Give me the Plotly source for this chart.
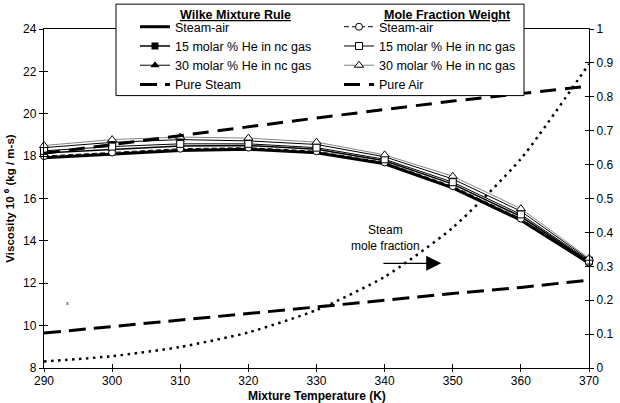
import plotly.graph_objects as go

# ---------------- data ----------------
temperature = [290, 300, 310, 320, 330, 340, 350, 360, 370]

wilke_steam_air = [17.92, 18.08, 18.27, 18.32, 18.16, 17.64, 16.50, 14.98, 12.95]
wilke_he15      = [18.15, 18.33, 18.48, 18.50, 18.32, 17.78, 16.68, 15.15, 13.02]
wilke_he30      = [18.40, 18.65, 18.78, 18.72, 18.55, 17.97, 16.92, 15.40, 13.12]
pure_steam      = [9.65, 9.95, 10.25, 10.55, 10.88, 11.20, 11.52, 11.80, 12.15]

mfw_steam_air   = [18.00, 18.17, 18.35, 18.40, 18.23, 17.70, 16.58, 15.05, 12.98]
mfw_he15        = [18.25, 18.45, 18.58, 18.58, 18.40, 17.85, 16.77, 15.25, 13.07]
mfw_he30        = [18.50, 18.78, 18.90, 18.85, 18.66, 18.06, 17.05, 15.52, 13.18]
pure_air        = [18.13, 18.55, 18.97, 19.40, 19.80, 20.20, 20.60, 20.95, 21.30]

steam_mole_fraction = [0.019, 0.035, 0.062, 0.105, 0.171, 0.269, 0.414, 0.617, 0.897]

x_ticks = [290, 300, 310, 320, 330, 340, 350, 360, 370]

FONT = "Liberation Sans, Arial, sans-serif"

fig = go.Figure()

# Wilke mixture rule column (legend 1)
fig.add_trace(go.Scatter(x=temperature, y=wilke_steam_air, name="Steam-air", mode="lines",
                         line=dict(color="black", width=3), legend="legend", cliponaxis=False))
fig.add_trace(go.Scatter(x=temperature, y=wilke_he15, name="15 molar % He in nc gas", mode="lines+markers",
                         line=dict(color="black", width=1.5),
                         marker=dict(symbol="square", size=7, color="black"),
                         legend="legend", cliponaxis=False))
fig.add_trace(go.Scatter(x=temperature, y=wilke_he30, name="30 molar % He in nc gas", mode="lines+markers",
                         line=dict(color="black", width=1),
                         marker=dict(symbol="triangle-up", size=8, color="black"),
                         legend="legend", cliponaxis=False))
fig.add_trace(go.Scatter(x=temperature, y=pure_steam, name="Pure Steam", mode="lines",
                         line=dict(color="black", width=3, dash="17px,8px"),
                         legend="legend", cliponaxis=False))

# Mole fraction weight column (legend 2)
fig.add_trace(go.Scatter(x=temperature, y=mfw_steam_air, name="Steam-air", mode="lines+markers",
                         line=dict(color="black", width=1, dash="5px,3px"),
                         marker=dict(symbol="circle", size=7, color="white", line=dict(color="black", width=1)),
                         legend="legend2", cliponaxis=False))
fig.add_trace(go.Scatter(x=temperature, y=mfw_he15, name="15 molar % He in nc gas", mode="lines+markers",
                         line=dict(color="black", width=1),
                         marker=dict(symbol="square", size=7, color="white", line=dict(color="black", width=1)),
                         legend="legend2", cliponaxis=False))
fig.add_trace(go.Scatter(x=temperature, y=mfw_he30, name="30 molar % He in nc gas", mode="lines+markers",
                         line=dict(color="#666666", width=0.8),
                         marker=dict(symbol="triangle-up", size=8, color="white", line=dict(color="black", width=1)),
                         legend="legend2", cliponaxis=False))
fig.add_trace(go.Scatter(x=temperature, y=pure_air, name="Pure Air", mode="lines",
                         line=dict(color="black", width=3, dash="16px,9px"),
                         legend="legend2", cliponaxis=False))

# Steam mole fraction on right axis
fig.add_trace(go.Scatter(x=temperature, y=steam_mole_fraction, yaxis="y2", mode="lines",
                         line=dict(color="black", width=2.5, dash="2.5px,4.5px", shape="spline", smoothing=0.6),
                         showlegend=False, cliponaxis=False))

# empty traces so the inner-tick overlay axes exist
fig.add_trace(go.Scatter(x=[], y=[], xaxis="x2", yaxis="y3", showlegend=False))
fig.add_trace(go.Scatter(x=[], y=[], xaxis="x2", yaxis="y4", showlegend=False))

# pixel -> paper helpers (plot area: x 44..589, y 27..368)
L, R, T, B = 44, 589, 27, 368
def px(x):
    return (x - L) / (R - L)
def py(y):
    return (B - y) / (B - T)

axis_common = dict(showgrid=False, zeroline=False, tickcolor="black", linecolor="black", automargin=False,
                   tickfont=dict(family=FONT, size=12, color="black"))
inner_common = dict(ticks="inside", ticklen=4, tickwidth=1, showticklabels=False, showline=False,
                    showgrid=False, zeroline=False, tickcolor="black", automargin=False)

fig.update_layout(
    width=620, height=403, autosize=False,
    margin=dict(l=L, r=620 - R, t=T, b=403 - B),
    paper_bgcolor="white", plot_bgcolor="white",
    font=dict(family=FONT, size=12, color="black"),
    xaxis=dict(range=[290, 370], tickvals=x_ticks, ticks="outside", ticklen=3, tickwidth=1,
               ticklabelstandoff=-2, showline=True, linewidth=1.3, mirror=True,
               **axis_common),
    yaxis=dict(range=[8, 24], dtick=2, tick0=8, ticks="outside", ticklen=4, tickwidth=1,
               showline=True, linewidth=1.3,
               title=dict(text="<b>Viscosity 10 <sup>6</sup> (kg / m-s)</b>", font=dict(family=FONT, size=11.5),
                          standoff=6),
               **axis_common),
    yaxis2=dict(range=[0, 1], dtick=0.1, tick0=0, overlaying="y", side="right", anchor="x",
                ticks="outside", ticklen=4, tickwidth=1, showline=True, linewidth=1.3, **axis_common),
    xaxis2=dict(range=[290, 370], tickvals=x_ticks, overlaying="x", anchor="y", side="bottom", **inner_common),
    yaxis3=dict(range=[8, 24], dtick=2, tick0=8, overlaying="y", side="left", anchor="x", **inner_common),
    yaxis4=dict(range=[0, 1], dtick=0.1, tick0=0, overlaying="y", side="right", anchor="x", **inner_common),
    legend=dict(x=px(135), y=py(10), xanchor="left", yanchor="top", bgcolor="rgba(0,0,0,0)",
                borderwidth=0, font=dict(family=FONT, size=12.5), tracegroupgap=0),
    legend2=dict(x=px(339), y=py(10), xanchor="left", yanchor="top", bgcolor="rgba(0,0,0,0)",
                 borderwidth=0, font=dict(family=FONT, size=12.5), tracegroupgap=0),
    shapes=[dict(type="rect", xref="paper", yref="paper", x0=px(116), x1=px(524), y0=py(94), y1=py(2),
                 line=dict(color="black", width=1), fillcolor="white", layer="above")],
    annotations=[
        dict(text="<b>Mixture Temperature (K)</b>", xref="paper", yref="paper", x=0.5, y=py(405),
             xanchor="center", yanchor="bottom", showarrow=False, font=dict(family=FONT, size=12)),
        dict(text="<b><u>Wilke Mixture Rule</u></b>", xref="paper", yref="paper", x=px(178), y=py(13),
             xanchor="left", yanchor="middle", showarrow=False, font=dict(family=FONT, size=12.5)),
        dict(text="<b><u>Mole Fraction Weight</u></b>", xref="paper", yref="paper", x=px(382), y=py(13),
             xanchor="left", yanchor="middle", showarrow=False, font=dict(family=FONT, size=12.5)),
        dict(text="Steam<br>mole fraction", x=340.2, y=14.15, xref="x", yref="y", showarrow=False,
             font=dict(family=FONT, size=12)),
        dict(text="", x=348.3, y=12.94, ax=339.6, ay=12.94, xref="x", yref="y", axref="x", ayref="y",
             showarrow=True, arrowhead=2, arrowsize=2.5, arrowwidth=1.2, arrowcolor="black"),
        dict(text="<i>s</i>", x=293.4, y=11.07, xref="x", yref="y", showarrow=False,
             font=dict(family="Liberation Serif, serif", size=7)),
    ],
)

fig.write_html("out.html")
